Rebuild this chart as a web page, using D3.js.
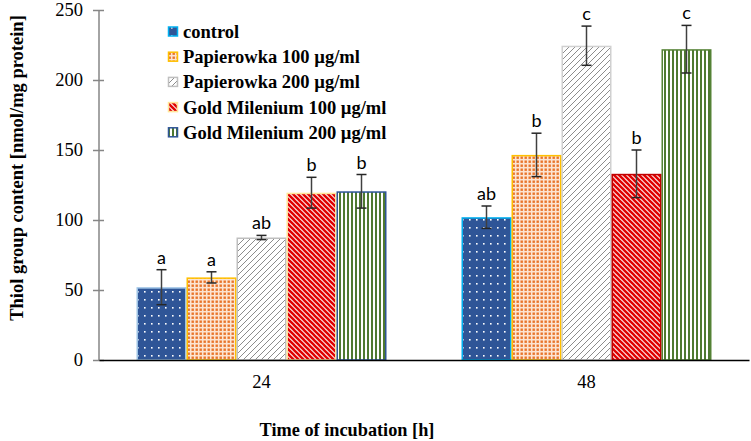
<!DOCTYPE html>
<html><head><meta charset="utf-8">
<script src="https://cdn.jsdelivr.net/npm/d3@7"></script>
<style>body{margin:0;background:#fff}svg{display:block}</style>
</head><body>
<svg id="c" width="751" height="441"></svg>
<script>
const categories = ["24", "48"];
const seriesNames = ["control", "Papierowka 100 µg/ml", "Papierowka 200 µg/ml", "Gold Milenium 100 µg/ml", "Gold Milenium 200 µg/ml"];
const values24 = [52, 59, 87.5, 119.5, 120.5];
const values48 = [102, 146.5, 224.5, 133, 222];
const err24 = [12.5, 4, 1.5, 11, 12];
const err48 = [8, 15.5, 14, 17, 17];
const letters24 = ["a", "a", "ab", "b", "b"];
const letters48 = ["ab", "b", "c", "b", "c"];
const yTicks = [0, 50, 100, 150, 200, 250];

const svg = d3.select("#c");
const defs = svg.append("defs");
const serif = "'Liberation Serif', 'Times New Roman', serif";

function pat(id, w, h, draw, bg) {
  const p = defs.append("pattern").attr("id", id).attr("patternUnits", "userSpaceOnUse").attr("width", w).attr("height", h);
  p.append("rect").attr("width", w).attr("height", h).attr("fill", bg);
  draw(p);
}
pat("p0", 7, 8, p => { p.append("rect").attr("x", 3).attr("y", 3).attr("width", 1.6).attr("height", 1.6).attr("fill", "#fff"); }, "#2F5597");
pat("p1", 4, 4, p => { p.append("rect").attr("x", 0.5).attr("y", 0.5).attr("width", 2.4).attr("height", 2.4).attr("fill", "#E8742A"); }, "#FCE4D2");
pat("p2", 6, 6, p => {
  p.append("path").attr("d", "M-1,7 L7,-1 M-4,4 L4,-4 M2,10 L10,2").attr("stroke", "#8C8C8C").attr("stroke-width", 1);
}, "#fff");
pat("p3", 5, 5, p => {
  p.append("path").attr("d", "M-1,-1 L6,6 M-3.5,1.5 L1.5,6.5 M1.5,-3.5 L6.5,1.5").attr("stroke", "#E00000").attr("stroke-width", 2.3);
}, "#FBE3E3");
pat("p4", 4, 10, p => { p.append("rect").attr("x", 0).attr("y", 0).attr("width", 2).attr("height", 10).attr("fill", "#4F7A30"); }, "#fff");

const patIds = ["p0", "p1", "p2", "p3", "p4"];
const border24 = ["#9DC3E6", "#FFC000", "#BFBFBF", "#FFE699", "#2F5597"];
const border48 = ["#00B0F0", "#FFC000", "#D0D0D0", "#C00000", "#548235"];
const legendBorder = ["#00B0F0", "#FFC000", "#BFBFBF", "#FFE699", "#2F5597"];

const x0 = d3.scaleBand().domain(categories).range([99, 749]).paddingInner(0).paddingOuter(0);
const x1 = d3.scaleBand().domain(d3.range(seriesNames.length)).range([0, x0.bandwidth()]).paddingInner(0).paddingOuter(0.75);
const y = d3.scaleLinear().domain([0, 250]).range([360, 10]);

const groups = [
  {cat: "24", vals: values24, errs: err24, lets: letters24, borders: border24},
  {cat: "48", vals: values48, errs: err48, lets: letters48, borders: border48}
];

groups.forEach(g => {
  const gg = svg.append("g").attr("transform", `translate(${x0(g.cat)},0)`);
  g.vals.forEach((v, i) => {
    gg.append("rect")
      .attr("x", x1(i) + 0.75).attr("y", y(v) + 0.75)
      .attr("width", x1.bandwidth() - 1.5).attr("height", y(0) - y(v) - 0.75)
      .attr("fill", `url(#${patIds[i]})`)
      .attr("stroke", g.borders[i]).attr("stroke-width", 1.5);
  });
  g.vals.forEach((v, i) => {
    const cx = x1(i) + x1.bandwidth() / 2;
    const t = y(v + g.errs[i]), b = y(v - g.errs[i]);
    gg.append("line").attr("x1", cx).attr("x2", cx).attr("y1", t).attr("y2", b).attr("stroke", "#404040").attr("stroke-width", 1.5);
    [t, b].forEach(yy => gg.append("line").attr("x1", cx - 5).attr("x2", cx + 5).attr("y1", yy).attr("y2", yy).attr("stroke", "#262626").attr("stroke-width", 1.5));
    gg.append("text").attr("x", cx).attr("y", t - 6).attr("text-anchor", "middle")
      .attr("font-family", "Lato, 'Open Sans', sans-serif").attr("font-size", 18).attr("fill", "#000").text(g.lets[i]);
  });
});

const yAxis = svg.append("g").attr("transform", "translate(99,0)")
  .call(d3.axisLeft(y).tickValues(yTicks).tickSize(6).tickPadding(10));
yAxis.select(".domain").attr("stroke", "#868686").attr("stroke-width", 1.5).attr("d", "M0,10V360");
yAxis.selectAll(".tick line").attr("stroke", "#868686").attr("stroke-width", 1.5).attr("x1", 5).attr("x2", -6);
yAxis.selectAll(".tick text").attr("font-family", serif).attr("font-size", 18.5).attr("fill", "#000").attr("x", -16);

const xAxis = svg.append("g").attr("transform", "translate(0,360)")
  .call(d3.axisBottom(x0).tickSize(0).tickPadding(15));
xAxis.select(".domain").attr("stroke", "#000").attr("stroke-width", 1.5);
xAxis.selectAll(".tick text").attr("font-family", serif).attr("font-size", 18.5).attr("fill", "#000");

svg.append("text").attr("transform", "translate(23,168) rotate(-90)").attr("text-anchor", "middle")
  .attr("font-family", serif).attr("font-weight", "bold").attr("font-size", 18.5)
  .text("Thiol group content [nmol/mg protein]");
svg.append("text").attr("x", 347).attr("y", 436).attr("text-anchor", "middle")
  .attr("font-family", serif).attr("font-weight", "bold").attr("font-size", 18.3)
  .text("Time of incubation [h]");

const leg = svg.append("g");
seriesNames.forEach((n, i) => {
  const yy = 32 + i * 25.2;
  leg.append("rect").attr("x", 168.5).attr("y", yy - 5).attr("width", 9).attr("height", 9)
    .attr("fill", `url(#${patIds[i]})`).attr("stroke", legendBorder[i]).attr("stroke-width", 1.5);
  leg.append("text").attr("x", 183).attr("y", yy + 6)
    .attr("font-family", serif).attr("font-weight", "bold").attr("font-size", 18.5)
    .text(n);
});
</script>
</body></html>
